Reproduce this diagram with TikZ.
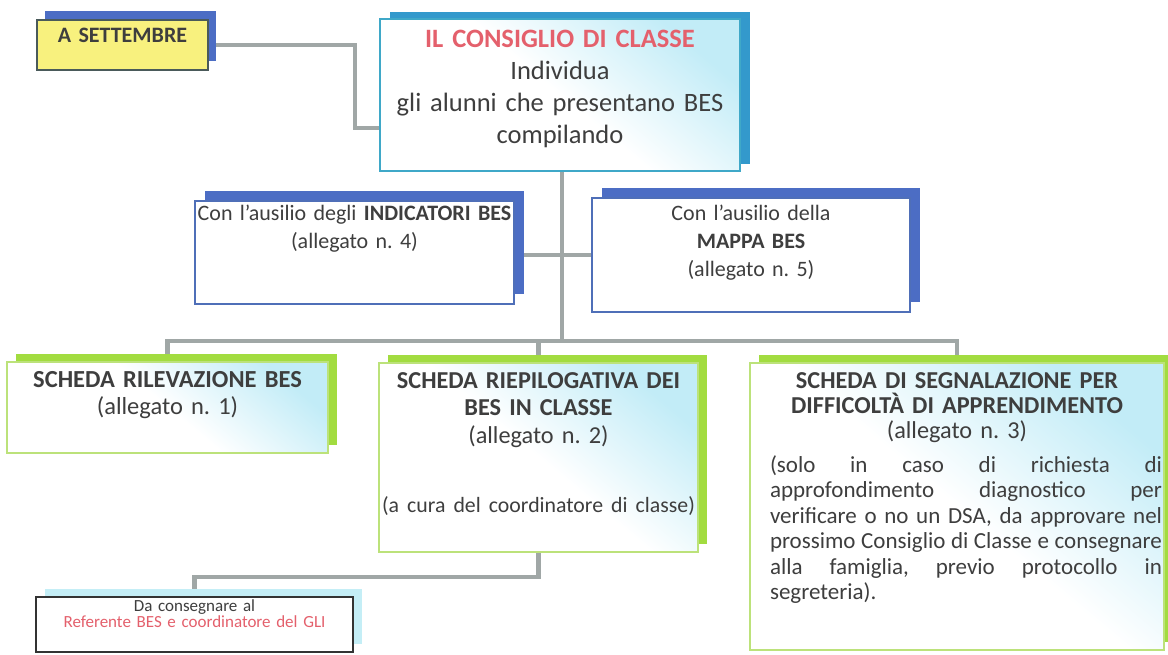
\documentclass[tikz,border=0pt]{standalone}
\usepackage{fontspec}
\setmainfont{Carlito}
\usetikzlibrary{shadows,backgrounds}
\frenchspacing
\definecolor{txtc}{HTML}{3E3E3E}
\definecolor{redt}{HTML}{E4606C}
\definecolor{connc}{HTML}{A0A7A6}
\definecolor{yelf}{HTML}{F8F17E}
\definecolor{setbd}{HTML}{4A5A5A}
\definecolor{blues}{HTML}{4C6DC4}
\definecolor{bluebd}{HTML}{4F6FB8}
\definecolor{teals}{HTML}{3399CC}
\definecolor{tealbd}{HTML}{3FA8C8}
\definecolor{greens}{HTML}{A2DC40}
\definecolor{greenbd}{HTML}{BCE27A}
\definecolor{cyanf}{HTML}{C2ECF7}
\definecolor{cyans}{HTML}{C4EEF6}
\newcommand\myfs[2]{\fontsize{#1pt}{#2pt}\selectfont}
\begin{document}
\begin{tikzpicture}[x=1pt,y=-1pt,
  box/.style={anchor=north west, inner sep=0pt, outer sep=0pt},
  shad/.style n args={3}{general shadow={fill=#1, shadow xshift=#2, shadow yshift=#3}},
  grad/.style={top color=cyanf, bottom color=white, middle color=white, shading angle=-40},
  setbox/.style={box, fill=yelf, draw=setbd, line width=1.2pt, shad={blues}{8pt}{9pt}},
  topbox/.style={box, grad, draw=tealbd, line width=1.6pt, shad={teals}{10pt}{7pt}},
  midbox/.style={box, fill=white, draw=bluebd, line width=1.2pt, shad={blues}{10pt}{10pt}},
  lowbox/.style={box, grad, draw=greenbd, line width=1.6pt, shad={greens}{9pt}{8pt}},
  endbox/.style={box, fill=white, draw=black!80, line width=1.3pt, shad={cyans}{9pt}{8pt}},
  lbl/.style={anchor=base, inner sep=0pt, outer sep=0pt, text width=420pt, align=center, text=txtc},
  conn/.style={draw=connc, line width=4.5pt}
]
\useasboundingbox (0,0) rectangle (1168,654);

% boxes
\node[setbox, minimum width=171pt, minimum height=50pt] (set) at (37,20) {};
\node[topbox, minimum width=360pt, minimum height=152pt] (top) at (380,19) {};
\node[midbox, minimum width=319pt, minimum height=103pt] (midL) at (195,201) {};
\node[midbox, minimum width=318pt, minimum height=114pt] (midR) at (592,198) {};
\node[lowbox, minimum width=321pt, minimum height=91pt] (b1) at (7,362) {};
\node[lowbox, minimum width=319pt, minimum height=189pt] (b2) at (379,363) {};
\node[lowbox, minimum width=414pt, minimum height=287pt] (b3) at (750,363) {};
\node[endbox, minimum width=317pt, minimum height=55pt] (bot) at (36,597) {};

% texts
\node[lbl, font=\bfseries\myfs{22}{26}] (tset) at (set.north |- 0,42) {A SETTEMBRE};
\node[lbl, font=\myfs{26.5}{32}] (ttop) at (top.north |- 0,47)
  {\textcolor{redt}{\bfseries IL CONSIGLIO DI CLASSE}\\Individua\\gli alunni che presentano BES\\compilando};
\node[lbl, font=\myfs{22}{28}] (tmidL) at (midL.north |- 0,220)
  {Con l’ausilio degli \textbf{INDICATORI BES}\\(allegato n. 4)};
\node[lbl, font=\myfs{22}{28}] (tmidR) at (midR.north |- 0,220)
  {Con l’ausilio della\\\textbf{MAPPA BES}\\(allegato n. 5)};
\node[lbl, font=\myfs{24.5}{27}] (tb1) at (b1.north |- 0,387)
  {\textbf{SCHEDA RILEVAZIONE BES}\\(allegato n. 1)};
\node[lbl, font=\myfs{24.3}{27.5}] (tb2) at (b2.north |- 0,388)
  {\textbf{SCHEDA RIEPILOGATIVA DEI}\\\textbf{BES IN CLASSE}\\(allegato n. 2)\\[42pt]{\myfs{21.8}{24}(a cura del coordinatore di classe)}};
\node[lbl, font=\myfs{24.3}{25}] (tb3) at (b3.north |- 0,388)
  {\textbf{SCHEDA DI SEGNALAZIONE PER}\\\textbf{DIFFICOLTÀ DI APPRENDIMENTO}\\(allegato n. 3)};
\node[anchor=base west, inner sep=0pt, outer sep=0pt, text width=392pt, align=justify, text=txtc, font=\myfs{23}{25.5}] (tb3p) at (770,472)
  {(solo in caso di richiesta di\linebreak approfondimento diagnostico per\linebreak verificare o no un DSA, da approvare nel\linebreak prossimo Consiglio di Classe e consegnare\linebreak alla famiglia, previo protocollo in\linebreak segreteria).};
\node[lbl, font=\myfs{17}{16}] (tbot) at (bot.north |- 0,611)
  {Da consegnare al\\\textcolor{redt}{Referente BES e coordinatore del GLI}};

% connectors
\coordinate (kink) at (355,128);
\coordinate (bus) at (562,341);
\coordinate (lowbus) at (194.5,577);
\begin{scope}[on background layer]
\draw[conn] (set.east) -| (kink) -- (kink -| top.west);
\draw[conn] (top.south -| bus) -- (bus);
\draw[conn] (midL.east |- midR.west) -- (midR.west);
\draw[conn] (b1.north) |- (bus) -| (b3.north);
\draw[conn] (bus -| b2.north) -- (b2.north);
\draw[conn] (b2.south) |- (lowbus) -- (bot.north);
\end{scope}
\end{tikzpicture}
\end{document}
